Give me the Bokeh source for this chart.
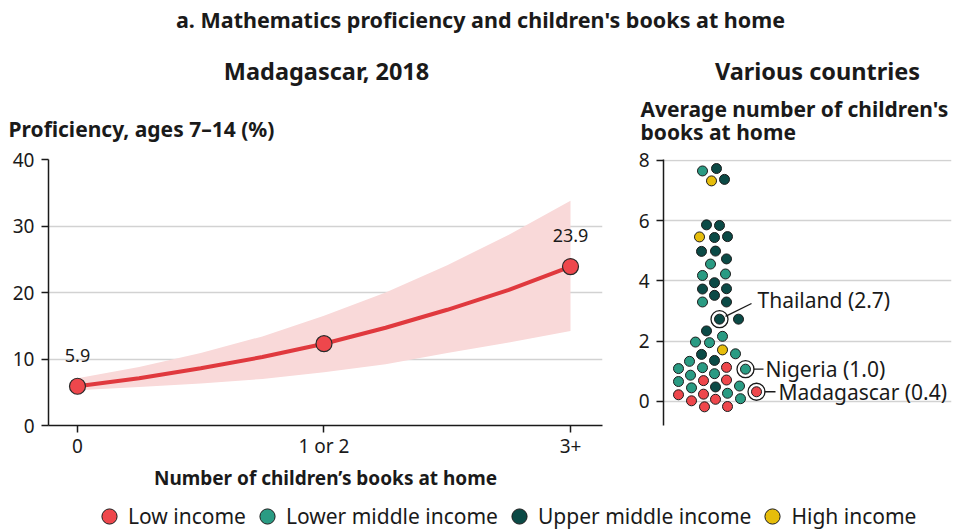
from bokeh.plotting import figure
from bokeh.models import Range1d, Legend, LegendItem, FixedTicker
from bokeh.layouts import column, row
from bokeh.embed import file_html
from bokeh.resources import INLINE
from bokeh.core.properties import value

FONT = "Noto Sans"
INK = "#1a1a1a"
GRID = "#d2d2d2"

# ---------------- data: left panel (Madagascar, 2018) ----------------
book_cats = [0, 1, 2]
book_labels = ["0", "1 or 2", "3+"]
proficiency = [5.9, 12.3, 23.9]
point_labels = ["5.9", "", "23.9"]
curve_x = [0, 0.25, 0.5, 0.75, 1.0, 1.25, 1.5, 1.75, 2.0]
curve_mid = [5.9, 7.1, 8.6, 10.3, 12.3, 14.7, 17.4, 20.4, 23.9]
curve_lo = [5.3, 5.8, 6.3, 7.0, 8.0, 9.2, 10.9, 12.5, 14.2]
curve_hi = [7.1, 8.8, 10.9, 13.4, 16.5, 20.0, 24.1, 28.7, 33.8]
left_yticks = [0, 10, 20, 30, 40]

# ---------------- data: right panel (various countries) ----------------
avg_books = [7.65, 7.73, 7.32, 7.37, 5.86, 5.84, 5.46, 5.44, 5.47, 4.98,
             4.99, 4.73, 4.56, 4.18, 4.23, 3.94, 3.73, 3.74, 3.52, 3.30,
             3.30, 2.73, 2.73, 2.34, 1.97, 1.95, 2.16, 1.71, 1.56, 1.36,
             1.58, 1.33, 1.09, 1.12, 1.13, 1.07, 0.87, 0.92, 0.66, 0.69,
             0.71, 0.45, 0.48, 0.51, 0.32, 0.22, 0.24, 0.27, 0.02, 0.07,
             0.09, -0.18, -0.17]
swarm_x = [-12, 2, -3, 10, -8, 5, -15, 0, 13, -13,
           1, 12, -4, -12, 11, 0, -12, 12, 0, -12,
           12, 5, 24, -8, -19, -5, 8, 8, -13, 0,
           21, -25, -36, -12, 12, 31, -24, 0, -36, -11,
           12, -23, 1, 25, 42, -36, -11, 13, -23, 1,
           26, -10, 13]
income = ["LM", "UM", "H", "UM", "UM", "UM", "H", "UM", "UM", "UM",
          "UM", "UM", "LM", "LM", "LM", "UM", "UM", "UM", "UM", "LM",
          "UM", "UM", "UM", "UM", "LM", "LM", "LM", "H", "UM", "UM",
          "LM", "LM", "LM", "LM", "L", "LM", "LM", "LM", "LM", "L",
          "L", "LM", "UM", "LM", "L", "L", "L", "LM", "L", "L",
          "LM", "L", "L"]
country = [""] * 53
country[21] = "Thailand"
country[35] = "Nigeria"
country[44] = "Madagascar"
country_label_values = {"Thailand": 2.7, "Nigeria": 1.0, "Madagascar": 0.4}
right_yticks = [0, 2, 4, 6, 8]

income_codes = ["L", "LM", "UM", "H"]
income_names = ["Low income", "Lower middle income", "Upper middle income", "High income"]
income_colors = ["#ee474c", "#2a9b83", "#0b4a46", "#e6bd0b"]
color_of = dict(zip(income_codes, income_colors))

# ---------------- texts ----------------
main_title = "a. Mathematics proficiency and children's books at home"
left_title = "Madagascar, 2018"
right_title = "Various countries"
left_ylabel = "Proficiency, ages 7\u201314 (%)"
right_ylabel = ["Average number of children's", "books at home"]
left_xlabel = "Number of children\u2019s books at home"

W, H = 961, 532
TOP_H = 145      # strip holding titles
LEG_H = 35       # strip holding the legend
ROW_H = H - TOP_H - LEG_H
FRAME_TOP, FRAME_H = 14, 266


def style_axis(ax, standoff):
    ax.axis_line_color = INK
    ax.axis_line_width = 1.5
    ax.major_tick_line_color = INK
    ax.major_tick_line_width = 1.5
    ax.major_tick_in = 0
    ax.major_tick_out = 7
    ax.minor_tick_line_color = None
    ax.major_label_text_font = FONT
    ax.major_label_text_font_size = "19px"
    ax.major_label_text_color = INK
    ax.major_label_standoff = standoff


def bare(fig):
    fig.axis.visible = False
    fig.grid.visible = False


# ---------------- title strip (screen-pixel coordinates) ----------------
T = figure(width=W, height=TOP_H, x_range=Range1d(0, W), y_range=Range1d(TOP_H, 0),
           toolbar_location=None, output_backend="svg", min_border=0,
           outline_line_color=None)
bare(T)


def ttext(x, y, txt, size, align="left"):
    T.text(x=[x], y=[y], text=[txt], text_align=align, text_baseline="middle",
           text_font=value(FONT), text_font_size=size, text_font_style="bold",
           text_color=INK)


ttext(480, 18.5, main_title, "21.5px", "center")
ttext(326, 70.5, left_title, "23.5px", "center")
ttext(817, 70.5, right_title, "23.5px", "center")
ttext(8, 128.5, left_ylabel, "21px")
ttext(640, 108.5, right_ylabel[0], "21px")
ttext(640, 131.5, right_ylabel[1], "21px")

# ---------------- left panel ----------------
p1 = figure(width=620, height=ROW_H, x_range=Range1d(-0.1176, 2.1298), y_range=Range1d(0, 40),
            toolbar_location=None, output_backend="svg",
            min_border_left=48, min_border_right=18, min_border_top=FRAME_TOP,
            min_border_bottom=ROW_H - FRAME_TOP - FRAME_H,
            outline_line_color=None)
p1.varea(x=curve_x, y1=curve_lo, y2=curve_hi, fill_color="#f9d9d9")
p1.line(curve_x, curve_mid, line_color="#e0393e", line_width=4)
p1.scatter(book_cats, proficiency, size=16, fill_color="#ee474c", line_color="#2a2a2a", line_width=1.2)
p1.text(x=book_cats, y=proficiency, text=point_labels, y_offset=-31,
        text_align="center", text_baseline="middle", text_font=value(FONT),
        text_font_size="18px", text_color=INK)
p1.xaxis.ticker = FixedTicker(ticks=book_cats)
p1.xaxis.major_label_overrides = {c: l for c, l in zip(book_cats, book_labels)}
p1.yaxis.ticker = FixedTicker(ticks=left_yticks)
style_axis(p1.xaxis[0], 0)
style_axis(p1.yaxis[0], 7)
p1.xaxis.axis_label = left_xlabel
p1.xaxis.axis_label_text_font = FONT
p1.xaxis.axis_label_text_font_size = "19px"
p1.xaxis.axis_label_text_font_style = "bold"
p1.xaxis.axis_label_text_color = INK
p1.xaxis.axis_label_standoff = 3
p1.xgrid.visible = False
p1.ygrid.grid_line_color = GRID
p1.ygrid.grid_line_width = 1.5

# ---------------- right panel ----------------
p2 = figure(width=W - 620, height=ROW_H, x_range=Range1d(-51, 237), y_range=Range1d(-0.8, 8.03),
            toolbar_location=None, output_backend="svg",
            min_border_left=43, min_border_right=10, min_border_top=FRAME_TOP,
            min_border_bottom=ROW_H - FRAME_TOP - FRAME_H,
            outline_line_color=None)
p2.xaxis.visible = False
p2.xgrid.visible = False
p2.ygrid.grid_line_color = GRID
p2.ygrid.grid_line_width = 1.5
p2.yaxis.ticker = FixedTicker(ticks=right_yticks)
style_axis(p2.yaxis[0], 7)

# highlighted countries: ring, leader line, label
hl = [i for i, c in enumerate(country) if c]
hx = [swarm_x[i] for i in hl]
hy = [avg_books[i] for i in hl]
p2.scatter(hx, hy, size=17, fill_color="white", line_color=INK, line_width=1.3)
# leader start/end and label anchor offsets (x in px, y in data units)
lead = {"Thailand": (6, 0.09, 32, 0.52, 38, 0.63),
        "Nigeria": (8, 0.0, 18, 0.0, 20, 0.0),
        "Madagascar": (8, 0.0, 19, 0.0, 22, 0.0)}
for i in hl:
    name = country[i]
    x0, dy0, x1, dy1, tx, tdy = lead[name]
    xv, yv = swarm_x[i], avg_books[i]
    p2.segment(x0=[xv + x0], y0=[yv + dy0], x1=[xv + x1], y1=[yv + dy1],
               line_color=INK, line_width=1.3)
    p2.text(x=[xv + tx], y=[yv + tdy], text=[f"{name} ({country_label_values[name]:.1f})"],
            text_align="left", text_baseline="middle", text_font=value(FONT),
            text_font_size="21px", text_color=INK)

p2.scatter(swarm_x, avg_books, size=10, fill_color=[color_of[g] for g in income],
           line_color="#1c1c1c", line_width=1)

# ---------------- legend strip ----------------
L = figure(width=W, height=LEG_H, x_range=Range1d(0, 1), y_range=Range1d(0, 1),
           toolbar_location=None, output_backend="svg", min_border=0,
           outline_line_color=None)
bare(L)
items = []
for name, col in zip(income_names, income_colors):
    # swatch renderer kept outside the visible range; only its legend glyph shows
    r = L.scatter(x=[-5], y=[-5], size=15, fill_color=col, line_color="#1c1c1c", line_width=1)
    items.append(LegendItem(label=name, renderers=[r]))
leg = Legend(items=items, orientation="horizontal", location=(90, -3),
             glyph_width=38, glyph_height=38, label_standoff=0, spacing=2,
             padding=0, margin=0, border_line_color=None, background_fill_alpha=0,
             label_text_font=FONT, label_text_font_size="21px", label_text_color=INK)
L.add_layout(leg)

layout = column(T, row(p1, p2), L)
open("out.html", "w").write(file_html(layout, INLINE))
